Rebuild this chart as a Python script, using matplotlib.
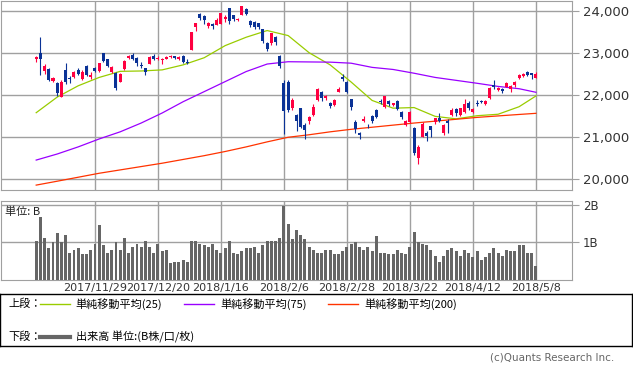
import numpy as np
import matplotlib.pyplot as plt

plt.rcParams['font.family'] = ['DejaVu Sans', 'Noto Sans CJK JP']

# 営業日 (2017/11/8 - 2018/5/8)
days = {
    "2017/11": [8, 9, 10, 13, 14, 15, 16, 17, 20, 21, 22, 24, 27, 28, 29, 30],
    "2017/12": [1, 4, 5, 6, 7, 8, 11, 12, 13, 14, 15, 18, 19, 20, 21, 22, 25, 26, 27, 28, 29],
    "2018/1": [4, 5, 9, 10, 11, 12, 15, 16, 17, 18, 19, 22, 23, 24, 25, 26, 29, 30, 31],
    "2018/2": [1, 2, 5, 6, 7, 8, 9, 13, 14, 15, 16, 19, 20, 21, 22, 23, 26, 27, 28],
    "2018/3": [1, 2, 5, 6, 7, 8, 9, 12, 13, 14, 15, 16, 19, 20, 22, 23, 26, 27, 28, 29, 30],
    "2018/4": [2, 3, 4, 5, 6, 9, 10, 11, 12, 13, 16, 17, 18, 19, 20, 23, 24, 25, 26, 27],
    "2018/5": [1, 2, 7, 8],
}
dates = [f"{ym}/{d}" for ym, ds in days.items() for d in ds]

opens = [22860, 23010, 22580, 22614, 22343, 22279, 21960, 22600, 22415, 22438,
         22598, 22375, 22694, 22438, 22638, 22574, 22997, 22853, 22540, 22533,
         22318, 22614, 22880, 22960, 22878, 22720, 22638, 22742, 22940, 22850,
         22830, 22870, 22900, 22920, 22870, 22940, 22800, 23073, 23634, 23938,
         23890, 23640, 23700, 23680, 23699, 23810, 24078, 23900, 23800, 23914,
         24050, 23778, 23750, 23710, 23571, 23236, 23236, 23380, 22933, 22295,
         22300, 21681, 21522, 21681, 21282, 21385, 21522, 21880, 22080, 21930,
         21816, 21760, 22080, 22438, 22318, 21897, 21361, 21083, 21385, 21270,
         21498, 21641, 21860, 21721, 21860, 21760, 21860, 21600, 21290, 21361,
         21200, 20500, 21003, 21100, 21250, 21350, 21450, 21098, 21380, 21522,
         21660, 21530, 21600, 21800, 21600, 21820, 21860, 21780, 21921, 22230,
         22120, 22150, 22200, 22150, 22240, 22400, 22460, 22560, 22520, 22410]
highs = [22940, 23382, 22740, 22640, 22440, 22300, 22360, 22757, 22460, 22580,
         22640, 22600, 22720, 22558, 22680, 22770, 23000, 22870, 22690, 22560,
         22520, 22830, 22950, 23010, 22900, 22780, 22650, 22930, 22980, 22920,
         22880, 22930, 22960, 22940, 22930, 22950, 22850, 23506, 23730, 23952,
         23900, 23740, 23720, 23830, 23960, 23900, 24084, 23920, 23840, 24129,
         24080, 23800, 23770, 23730, 23580, 23260, 23490, 23400, 22960, 22360,
         22353, 21930, 21550, 21700, 21340, 21500, 21780, 22160, 22100, 22000,
         21840, 21900, 22190, 22502, 22330, 21910, 21400, 21120, 21490, 21300,
         21520, 21660, 21900, 21980, 21880, 21820, 21870, 21620, 21400, 21620,
         21230, 20800, 21345, 21150, 21260, 21460, 21560, 21310, 21420, 21681,
         21700, 21700, 21900, 21850, 21700, 21880, 21880, 21870, 22190, 22360,
         22200, 22160, 22300, 22240, 22340, 22500, 22530, 22570, 22530, 22560]
lows = [22800, 22486, 22500, 22340, 22300, 21980, 21950, 22260, 22280, 22400,
        22480, 22350, 22460, 22380, 22560, 22560, 22790, 22680, 22520, 22119,
        22300, 22600, 22850, 22830, 22700, 22650, 22478, 22740, 22840, 22830,
        22750, 22850, 22890, 22870, 22840, 22760, 22750, 23065, 23520, 23800,
        23700, 23600, 23580, 23680, 23690, 23750, 23700, 23780, 23780, 23900,
        23900, 23620, 23580, 23580, 23250, 23060, 23200, 23200, 22640, 21078,
        21600, 21650, 21150, 21200, 20950, 21300, 21500, 21860, 21860, 21880,
        21700, 21740, 22060, 22330, 22050, 21640, 21100, 20940, 21360, 21200,
        21330, 21440, 21780, 21700, 21740, 21740, 21640, 21420, 21250, 21340,
        20560, 20347, 20990, 20900, 21000, 21300, 21350, 21056, 21100, 21500,
        21500, 21500, 21580, 21650, 21570, 21740, 21800, 21770, 21900, 22150,
        22100, 22050, 22180, 22080, 22200, 22380, 22440, 22450, 22380, 22400]
closes = [22913, 22868, 22681, 22359, 22399, 22040, 22319, 22300, 22380, 22558,
          22502, 22558, 22478, 22486, 22582, 22758, 22821, 22694, 22660, 22177,
          22498, 22811, 22938, 22866, 22758, 22694, 22553, 22901, 22868, 22891,
          22866, 22902, 22939, 22892, 22911, 22783, 22764, 23506, 23714, 23849,
          23788, 23710, 23653, 23800, 23951, 23868, 23763, 23808, 23816, 24124,
          23940, 23669, 23631, 23629, 23291, 23098, 23486, 23274, 22682, 21610,
          21645, 21890, 21382, 21244, 21154, 21464, 21720, 22149, 21925, 21970,
          21736, 21892, 22153, 22389, 22068, 21724, 21181, 21042, 21417, 21252,
          21368, 21469, 21824, 21968, 21777, 21803, 21676, 21480, 21380, 21591,
          20617, 20766, 21317, 21031, 21159, 21454, 21388, 21292, 21319, 21645,
          21567, 21678, 21794, 21687, 21660, 21778, 21835, 21847, 22158, 22191,
          22162, 22088, 22278, 22215, 22319, 22467, 22508, 22472, 22467, 22508]
# 出来高 (B株)
volume = [1.04, 1.67, 1.11, 0.84, 1.00, 1.24, 1.00, 1.19, 0.73, 0.79,
          0.84, 0.68, 0.68, 0.79, 0.95, 1.46, 0.92, 0.71, 0.79, 1.00,
          0.81, 1.11, 0.73, 0.89, 0.95, 0.89, 1.03, 0.89, 0.73, 0.95,
          0.76, 0.81, 0.44, 0.49, 0.49, 0.52, 0.49, 1.05, 1.05, 0.97,
          0.92, 0.87, 0.97, 0.79, 0.71, 0.84, 1.03, 0.73, 0.68, 0.76,
          0.84, 0.84, 0.89, 0.71, 0.92, 1.04, 1.05, 1.03, 1.11, 1.96,
          1.48, 1.08, 1.32, 1.19, 1.08, 0.89, 0.81, 0.71, 0.71, 0.81,
          0.81, 0.68, 0.68, 0.76, 0.87, 0.95, 1.00, 0.89, 0.79, 0.89,
          0.76, 1.16, 0.73, 0.71, 0.68, 0.68, 0.79, 0.71, 0.68, 0.87,
          1.27, 1.00, 0.95, 0.92, 0.81, 0.65, 0.49, 0.63, 0.79, 0.84,
          0.76, 0.65, 0.79, 0.73, 0.60, 0.76, 0.54, 0.60, 0.73, 0.84,
          0.73, 0.65, 0.79, 0.76, 0.76, 0.92, 0.92, 0.73, 0.71, 0.38]

# 移動平均 (チャートから読み取り、5営業日ごと)
ma_idx = [0, 5, 10, 15, 20, 25, 30, 35, 40, 45, 50, 55, 60, 65, 70, 75, 80, 85, 90, 95, 100, 105, 110, 115, 119]
sma25 = [21577, 21950, 22220, 22420, 22565, 22574, 22600, 22720, 22890, 23180, 23380, 23540, 23420,
         23010, 22720, 22310, 21870, 21685, 21700, 21490, 21430, 21505, 21540, 21720, 21976]
sma75 = [20445, 20590, 20760, 20950, 21120, 21330, 21570, 21840, 22080, 22320, 22560, 22740, 22795,
         22790, 22785, 22760, 22660, 22610, 22520, 22420, 22350, 22280, 22205, 22150, 22065]
sma200 = [19847, 19940, 20035, 20130, 20210, 20290, 20370, 20460, 20550, 20650, 20760, 20880, 20990,
          21050, 21120, 21180, 21230, 21280, 21330, 21375, 21420, 21465, 21500, 21535, 21562]

price_ticks = [20000, 21000, 22000, 23000, 24000]
vol_ticks = [1, 2]

UP, DOWN = '#ff0040', '#0a3296'
GRID = '#a0a0a0'

W, H = 633, 370
fig = plt.figure(figsize=(W / 100, H / 100), dpi=100)

x = np.arange(len(dates))
o, h, l, c = map(np.array, (opens, highs, lows, closes))
col = np.where(c >= o, UP, DOWN)
xlim = (-8.5, 127.6)
xt = x[14::15]
xl = [dates[i] for i in xt]

# --- 上段 ---
ax = fig.add_axes([0.5 / W, 1 - 190 / H, 571.5 / W, 189.5 / H])
ax.vlines(x, l, h, colors=col, linewidth=0.8, zorder=3)
body = np.maximum(np.abs(c - o), 12)
ax.bar(x, body, bottom=np.minimum(o, c), width=0.72, color=col, linewidth=0, zorder=4)
ax.plot(ma_idx, sma25, color='#99cc00', linewidth=0.9, zorder=2)
ax.plot(ma_idx, sma75, color='#9900ff', linewidth=0.9, zorder=2)
ax.plot(ma_idx, sma200, color='#ff3300', linewidth=0.9, zorder=2)
ax.set_xlim(*xlim)
ax.set_ylim(19730, 24258)
ax.set_xticks(xt)
ax.set_xticklabels([])
ax.set_yticks(price_ticks)
ax.set_yticklabels([f"{v:,}" for v in price_ticks], fontsize=9.5, color='#333333')
ax.yaxis.tick_right()
ax.tick_params(axis='y', length=5, color=GRID, pad=3)
ax.tick_params(axis='x', length=0)
ax.grid(True, color=GRID, linewidth=1)
ax.set_axisbelow(True)
for s in ax.spines.values():
    s.set_color(GRID)

# --- 下段 出来高 ---
av = fig.add_axes([0.5 / W, 1 - 280 / H, 571.5 / W, 79 / H])
av.bar(x, volume, width=0.7, color='#666666', linewidth=0, zorder=3)
av.set_xlim(*xlim)
av.set_ylim(0, 2.1)
av.set_yticks(vol_ticks)
av.set_yticklabels([f"{v}B" for v in vol_ticks], fontsize=8.5, color='#333333')
av.yaxis.tick_right()
av.tick_params(axis='y', length=5, color=GRID, pad=3)
av.set_xticks(xt)
av.set_xticklabels(xl, fontsize=8, color='#333333')
av.tick_params(axis='x', length=0, pad=2)
av.grid(True, color=GRID, linewidth=1)
av.set_axisbelow(True)
for s in av.spines.values():
    s.set_color(GRID)
av.text(0.008, 0.93, "単位: B", transform=av.transAxes, fontsize=8, va='top',
        family=['Noto Sans CJK JP', 'DejaVu Sans'], color='#222222')

# --- 凡例 ---
lg = fig.add_axes([0, 1 - 346 / H, 632 / W, 52 / H])
lg.set_xlim(0, 1)
lg.set_ylim(0, 1)
lg.set_xticks([])
lg.set_yticks([])
for s in lg.spines.values():
    s.set_color('black')
    s.set_linewidth(1)
jp = ['Noto Sans CJK JP', 'DejaVu Sans']
ty, by = 0.81, 0.17
lg.text(0.013, ty, "上段：", fontsize=8, va='center', family=jp)
lg.text(0.013, by, "下段：", fontsize=8, va='center', family=jp)
for x0, clr, lab in [(0.063, '#99cc00', "単純移動平均(25)"),
                     (0.291, '#9900ff', "単純移動平均(75)"),
                     (0.519, '#ff3300', "単純移動平均(200)")]:
    lg.plot([x0, x0 + 0.048], [ty, ty], color=clr, linewidth=1)
    lg.text(x0 + 0.057, ty, lab, fontsize=8, va='center', family=jp)
lg.plot([0.063, 0.111], [by, by], color='#666666', linewidth=3)
lg.text(0.120, by, "出来高 単位:(B株/口/枚)", fontsize=8, va='center', family=jp)

fig.text(614 / W, 1 - 358 / H, "(c)Quants Research Inc.", fontsize=7.5, color='#666666',
         ha='right', va='center')

fig.savefig("out.png", dpi=100)
